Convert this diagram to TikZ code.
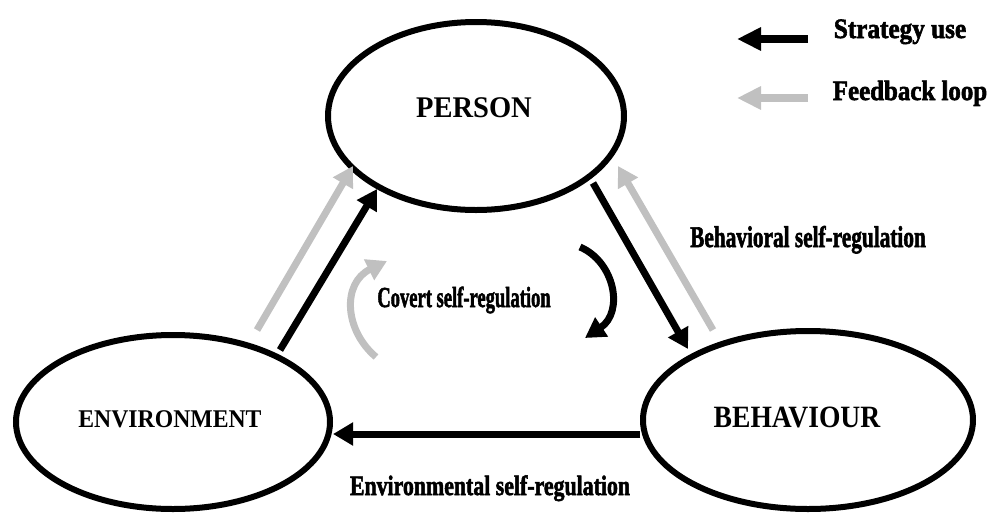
\documentclass[tikz,border=0pt]{standalone}
\usepackage{fontspec}
\setmainfont{Liberation Serif}
\newfontfamily\heavyfont{Liberation Serif}[BoldFeatures={FakeBold=2.2}]
\usetikzlibrary{arrows.meta,shapes.geometric}
\definecolor{fbgray}{RGB}{192,192,192}
\newcommand{\sqz}[2]{\scalebox{#1}[1]{#2}}
\begin{document}
\begin{tikzpicture}[x=1pt,y=-1pt,
  oval/.style={draw, ellipse, line width=6pt, inner sep=0pt},
  lbl/.style={anchor=base, inner sep=0pt, font=\bfseries},
  hlbl/.style={anchor=base, inner sep=0pt, font=\heavyfont\bfseries},
  strat/.style={draw=black, line width=7pt, -{Triangle[width=22pt,length=20pt]}},
  fb/.style={strat, draw=fbgray},
  legstrat/.style={draw=black, line width=8pt, -{Triangle[width=22pt,length=24pt]}},
  legfb/.style={legstrat, draw=fbgray}]
\fill[white] (0,0) rectangle (997,515);
\useasboundingbox (0,0) rectangle (997,515);

% ellipses
\node[oval, minimum width=296pt, minimum height=188pt] (person) at (476,116) {};
\node[oval, minimum width=314pt, minimum height=174pt] (env) at (173,422) {};
\node[oval, minimum width=330pt, minimum height=178pt] (beh) at (808,420) {};

% node labels
\node[lbl] (tperson) at (474,117) {\fontsize{30}{36}\selectfont\sqz{0.95}{PERSON}};
\node[lbl] (tenv) at (170,427) {\fontsize{25.5}{30}\selectfont\sqz{0.93}{ENVIRONMENT}};
\node[lbl] (tbeh) at (797,427) {\fontsize{31}{36}\selectfont\sqz{0.89}{BEHAVIOUR}};

% connector end points
\coordinate (e1) at (280,350);
\coordinate (p1) at (377,189);
\coordinate (e2) at (257,330);
\coordinate (p2) at (353,166);
\coordinate (p3) at (593,183);
\coordinate (b3) at (688,349);
\coordinate (b4) at (713,330);
\coordinate (p4) at (618,166);
\coordinate (b5) at (640,434);
\coordinate (e5) at (333,434);

% main arrows
\draw[fb] (e2) -- (p2);
\draw[strat] (e1) -- (p1);
\draw[strat] (p3) -- (b3);
\draw[fb] (b4) -- (p4);
\draw[strat] (b5) -- (e5);

% covert curved arrows
\coordinate (cb1) at (580,247);
\coordinate (cb2) at (585,338);
\draw[strat] (cb1) .. controls (615,262) and (624,312) .. (cb2);
\coordinate (cg1) at (376,357);
\coordinate (cg2) at (387,261);
\draw[fb] (cg1) .. controls (344,330) and (342,283) .. (cg2);

% labels
\node[hlbl] (lcov) at (464,307) {\fontsize{29}{34}\selectfont\sqz{0.64}{Covert self-regulation}};
\node[hlbl] (lbeh) at (808,247) {\fontsize{30}{36}\selectfont\sqz{0.71}{Behavioral self-regulation}};
\node[hlbl] (lenv) at (490,495) {\fontsize{28}{32}\selectfont\sqz{0.78}{Environmental self-regulation}};

% legend
\coordinate (ls1) at (808,39);
\coordinate (ls2) at (737,39);
\coordinate (lf1) at (808,98);
\coordinate (lf2) at (737,98);
\draw[legstrat] (ls1) -- (ls2);
\draw[legfb] (lf1) -- (lf2);
\node[hlbl] (tstrat) at (900,38) {\fontsize{28}{32}\selectfont\sqz{0.9}{Strategy use}};
\node[hlbl] (tfb) at (910,100) {\fontsize{28}{32}\selectfont\sqz{0.89}{Feedback loop}};
\end{tikzpicture}
\end{document}
